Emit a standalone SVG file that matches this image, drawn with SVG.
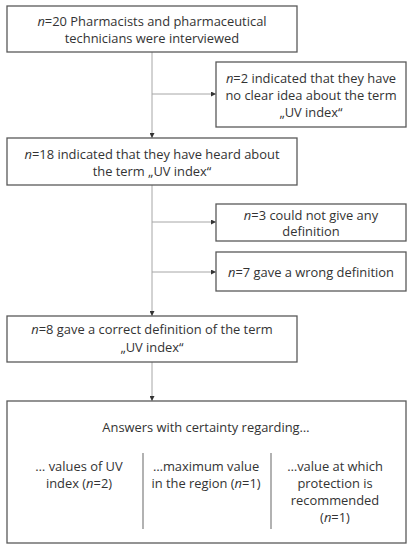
<svg xmlns="http://www.w3.org/2000/svg" width="413" height="550" viewBox="0 0 413 550">
<defs>
<marker id="ah" viewBox="0 0 6 6" refX="6" refY="3" markerWidth="5" markerHeight="5" orient="auto" markerUnits="userSpaceOnUse">
<path d="M0,0 L6,3 L0,6 z" fill="#333"/>
</marker>
<style>
.box{fill:#fff;stroke:#595959;stroke-width:1.3}
.t{font-family:"Open Sans","Liberation Sans",sans-serif;font-size:12.9px;fill:#333;text-anchor:middle}
.c{fill:none;stroke:#a6a6a6;stroke-width:1}
.div{stroke:#7f7f7f;stroke-width:1.2}
</style>
</defs>
<rect width="413" height="550" fill="#fff"/>
<g id="connectors">
<line class="c" x1="152" y1="52" x2="152" y2="138" marker-end="url(#ah)"/>
<line class="c" x1="152" y1="94" x2="216" y2="94" marker-end="url(#ah)"/>
<line class="c" x1="152" y1="185" x2="152" y2="316" marker-end="url(#ah)"/>
<line class="c" x1="152" y1="222" x2="216" y2="222" marker-end="url(#ah)"/>
<line class="c" x1="152" y1="272" x2="216" y2="272" marker-end="url(#ah)"/>
<line class="c" x1="152" y1="362" x2="152" y2="401" marker-end="url(#ah)"/>
</g>
<g id="n1">
<rect class="box" x="7" y="6" width="290" height="46"/>
<text class="t" x="152" y="25.5"><tspan font-style="italic">n</tspan>=20 Pharmacists and pharmaceutical</text>
<text class="t" x="152" y="42.5">technicians were interviewed</text>
</g>
<g id="n2">
<rect class="box" x="216" y="62" width="190" height="65"/>
<text class="t" x="311" y="82.5"><tspan font-style="italic">n</tspan>=2 indicated that they have</text>
<text class="t" x="311" y="99.5">no clear idea about the term</text>
<text class="t" x="311" y="116.5">„UV index“</text>
</g>
<g id="n3">
<rect class="box" x="7" y="138" width="290" height="47"/>
<text class="t" x="152" y="158.5"><tspan font-style="italic">n</tspan>=18 indicated that they have heard about</text>
<text class="t" x="152" y="176">the term „UV index“</text>
</g>
<g id="n4">
<rect class="box" x="216" y="204" width="190" height="37"/>
<text class="t" x="311" y="219.5"><tspan font-style="italic">n</tspan>=3 could not give any</text>
<text class="t" x="311" y="236">definition</text>
</g>
<g id="n5">
<rect class="box" x="216" y="252" width="190" height="39"/>
<text class="t" x="311" y="276.5"><tspan font-style="italic">n</tspan>=7 gave a wrong definition</text>
</g>
<g id="n6">
<rect class="box" x="7" y="316" width="290" height="46"/>
<text class="t" x="152" y="333.5"><tspan font-style="italic">n</tspan>=8 gave a correct definition of the term</text>
<text class="t" x="152" y="352">„UV index“</text>
</g>
<g id="n7">
<rect class="box" x="7" y="401" width="399" height="142"/>
<text class="t" x="206" y="431.5">Answers with certainty regarding…</text>
<line class="div" x1="143" y1="453" x2="143" y2="529"/>
<line class="div" x1="271" y1="453" x2="271" y2="529"/>
<text class="t" x="79" y="470.5">… values of UV</text>
<text class="t" x="79" y="487.5">index (<tspan font-style="italic">n</tspan>=2)</text>
<text class="t" x="206" y="470.5">…maximum value</text>
<text class="t" x="206" y="487.5">in the region (<tspan font-style="italic">n</tspan>=1)</text>
<text class="t" x="335" y="470.5">…value at which</text>
<text class="t" x="335" y="487.5">protection is</text>
<text class="t" x="335" y="504.5">recommended</text>
<text class="t" x="335" y="521.5">(<tspan font-style="italic">n</tspan>=1)</text>
</g>
</svg>
